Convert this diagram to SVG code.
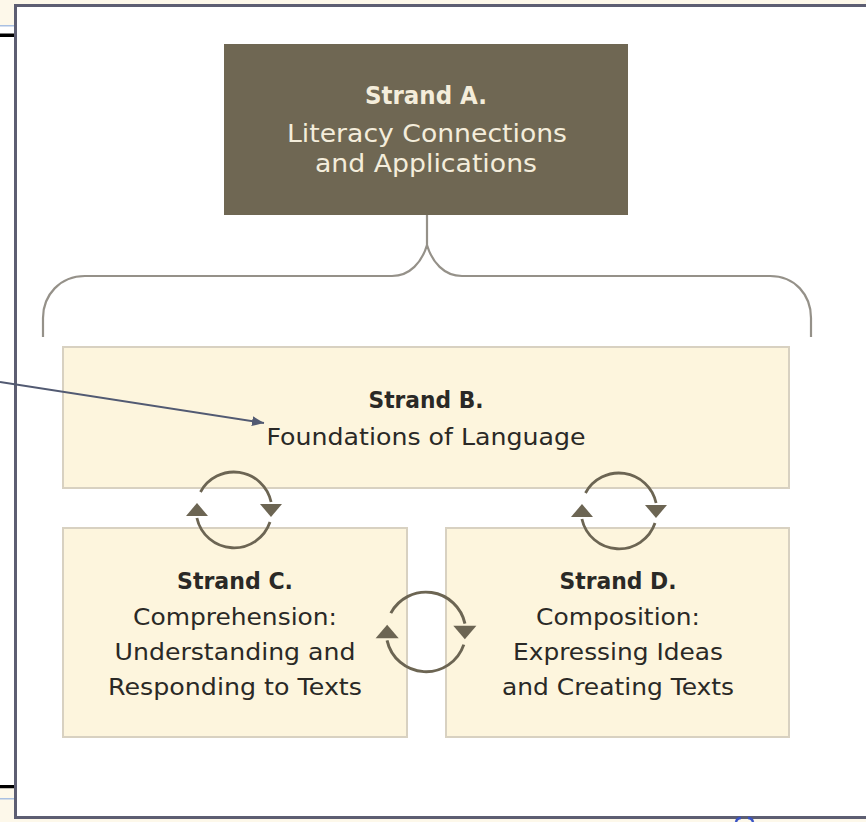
<svg xmlns="http://www.w3.org/2000/svg" xmlns:xlink="http://www.w3.org/1999/xlink" width="866" height="822" viewBox="0 0 866 822">
<style>
  .t { font-family: "DejaVu Sans", "Open Sans", sans-serif; text-anchor: middle; }
  .ta { fill: #f4eddb; font-size: 24px; }
  .tb { fill: #2a2926; font-size: 22.5px; }
  .b { font-weight: bold; }
  .box { fill: #fdf5dd; stroke: #d8d1c1; stroke-width: 2; }
  .cyc { fill: none; stroke: #6c6553; stroke-width: 2.8; }
  .cyh { fill: #6c6553; }
  .brace { fill: none; stroke: #959189; stroke-width: 2.2; }
</style>
<defs>
  <marker id="ah" viewBox="0 0 12 10" refX="12" refY="5" markerWidth="12" markerHeight="10" markerUnits="userSpaceOnUse" orient="auto">
    <path d="M0,0 L12,5 L0,10 Z" fill="#525a72"/>
  </marker>
  <g id="cycle">
    <path class="cyc" d="M-33.5,-18 A38,38 0 0 1 37.1,-8"/>
    <path class="cyc" d="M36,12 A38,38 0 0 1 -37.1,8"/>
    <path class="cyh" d="M-48,6 L-26,6 L-37,-7 Z"/>
    <path class="cyh" d="M26,-6 L48,-6 L37,7 Z"/>
  </g>
</defs>

<rect x="0" y="0" width="866" height="822" fill="#ffffff"/>
<rect x="0" y="0" width="866" height="5" fill="#fdf8ea"/>
<rect x="0" y="0" width="15" height="25" fill="#fdf8ea"/>
<rect x="0" y="25" width="15" height="1.5" fill="#a9c0e2"/>
<rect x="0" y="33.5" width="15" height="3.5" fill="#000000"/>
<rect x="0" y="785" width="15" height="3.5" fill="#000000"/>
<rect x="0" y="788.5" width="15" height="34" fill="#fdf8ea"/>
<rect x="0" y="798" width="15" height="1.5" fill="#a9c0e2"/>
<rect x="0" y="818" width="866" height="4" fill="#fdf8ea"/>

<rect x="15.5" y="5.5" width="900" height="812" fill="#ffffff" stroke="#5d5e72" stroke-width="3"/>

<g id="strandA">
  <rect x="224" y="44" width="404" height="171" fill="#6f6753"/>
  <text class="t ta b" x="426" y="104" textLength="122" lengthAdjust="spacingAndGlyphs">Strand A.</text>
  <text class="t ta" x="427" y="142" textLength="280" lengthAdjust="spacingAndGlyphs">Literacy Connections</text>
  <text class="t ta" x="426" y="172" textLength="222" lengthAdjust="spacingAndGlyphs">and Applications</text>
</g>

<g id="strandB">
  <rect class="box" x="63" y="347" width="726" height="141"/>
  <text class="t tb b" x="426" y="408" textLength="115" lengthAdjust="spacingAndGlyphs">Strand B.</text>
  <text class="t tb" x="426" y="445" textLength="319" lengthAdjust="spacingAndGlyphs">Foundations of Language</text>
</g>

<g id="strandC">
  <rect class="box" x="63" y="528" width="344" height="209"/>
  <text class="t tb b" x="235" y="589" textLength="116" lengthAdjust="spacingAndGlyphs">Strand C.</text>
  <text class="t tb" x="235" y="625" textLength="204" lengthAdjust="spacingAndGlyphs">Comprehension:</text>
  <text class="t tb" x="235" y="660" textLength="241" lengthAdjust="spacingAndGlyphs">Understanding and</text>
  <text class="t tb" x="235" y="695" textLength="254" lengthAdjust="spacingAndGlyphs">Responding to Texts</text>
</g>

<g id="strandD">
  <rect class="box" x="446" y="528" width="343" height="209"/>
  <text class="t tb b" x="618" y="589" textLength="117" lengthAdjust="spacingAndGlyphs">Strand D.</text>
  <text class="t tb" x="618" y="625" textLength="164" lengthAdjust="spacingAndGlyphs">Composition:</text>
  <text class="t tb" x="618" y="660" textLength="210" lengthAdjust="spacingAndGlyphs">Expressing Ideas</text>
  <text class="t tb" x="618" y="695" textLength="232" lengthAdjust="spacingAndGlyphs">and Creating Texts</text>
</g>

<g id="connectors">
  <path class="brace" d="M427,215 L427,245"/>
  <path class="brace" d="M43,337 L43,318 C43,295 60,276 85,276 L392,276 C410,276 422,262 427,245 C432,262 444,276 462,276 L770,276 C795,276 811,295 811,318 L811,337"/>
  <use xlink:href="#cycle" transform="translate(234,510)"/>
  <use xlink:href="#cycle" transform="translate(426,632) scale(1.05)"/>
  <use xlink:href="#cycle" transform="translate(619,511)"/>
  <line x1="0" y1="382" x2="264" y2="423" stroke="#525a72" stroke-width="2" marker-end="url(#ah)"/>
</g>

<path d="M736,822 Q737,818 741,818 M748,818 Q752,818 753,822" fill="none" stroke="#3a54c4" stroke-width="2.5"/>
</svg>
